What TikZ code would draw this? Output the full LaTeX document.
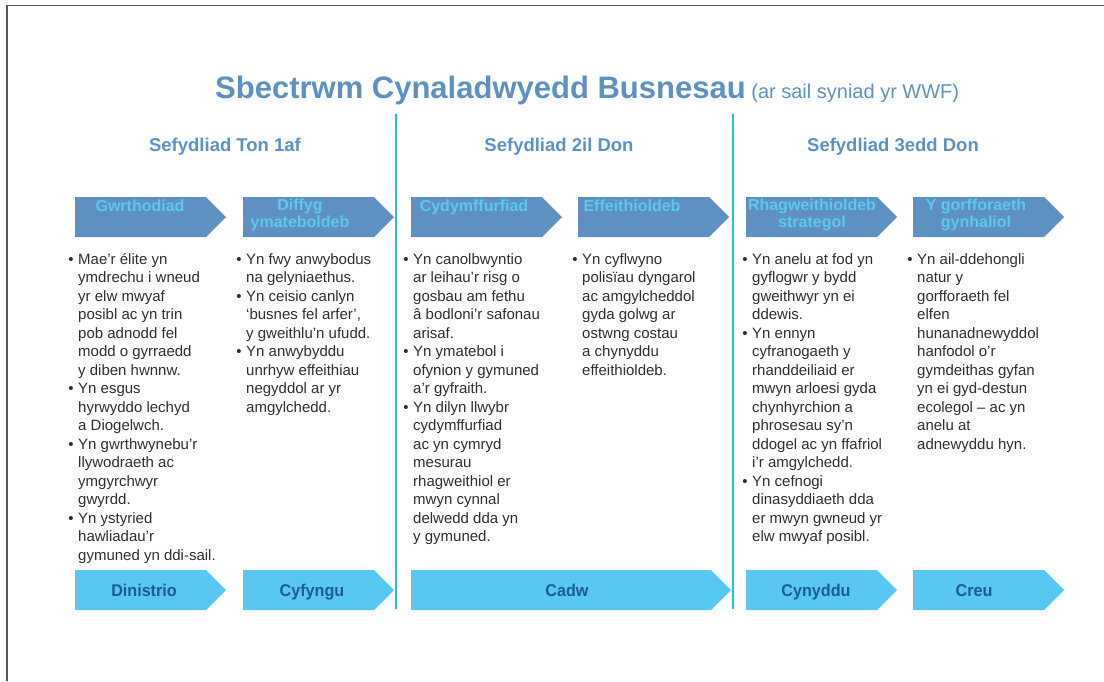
\documentclass[tikz,border=0pt]{standalone}
\usepackage{fontspec}
\setmainfont{Liberation Sans}
\definecolor{steel}{HTML}{5E91C2}
\definecolor{sky}{HTML}{58C8F2}
\definecolor{skytext}{HTML}{5BC8F0}
\definecolor{navy}{HTML}{1C5A98}
\definecolor{rule}{HTML}{2BB8EA}
\definecolor{body}{HTML}{2E2E2E}
\definecolor{frame}{HTML}{555555}
\tikzset{
  toparrow/.style={fill=steel, draw=none},
  botarrow/.style={fill=sky, draw=none},
  toplabel/.style={anchor=north, inner sep=0, text=skytext, align=center, font=\fontsize{16}{17}\selectfont\bfseries},
  botlabel/.style={anchor=base, inner sep=0, text=navy, font=\fontsize{17}{18}\selectfont\bfseries},
  colhead/.style={inner sep=0, text=steel, font=\fontsize{18.5}{20}\selectfont\bfseries},
  coltext/.style={anchor=base west, inner sep=0, text=body},
  divider/.style={draw=rule, line width=1.3pt},
}
\newcommand{\bul}{\leavevmode\llap{\textbullet\hspace{4.5pt}}}
\newcommand{\coltxt}[1]{\parbox[t]{170pt}{\fontsize{15}{18.5}\selectfont\raggedright\parindent=0pt #1}}
\newcommand{\arrowshape}[5]{% style, x, y, body width, name
  \fill[#1] (#2,#3) -- ++(#4,0) -- ++(20,20) -- ++(-20,20) -- ++(-#4,0) -- cycle;
  \coordinate (#5) at (#2+#4/2,#3+20);
}
\begin{document}
\begin{tikzpicture}[x=1pt,y=-1pt]
\useasboundingbox (0,0) rectangle (1104,681);
% frame
\draw[frame, line width=1.4pt] (7,681) -- (7,5.5) -- (1104,5.5);
% title
\node[anchor=base west, inner sep=0, text=steel] (title) at (215,98)
  {\fontsize{31}{32}\selectfont\bfseries Sbectrwm Cynaladwyedd Busnesau\fontsize{20}{22}\selectfont\mdseries\ (ar sail syniad yr WWF)};
% dividers
\coordinate (d1t) at (396,114); \coordinate (d1b) at (396,609);
\coordinate (d2t) at (733,114); \coordinate (d2b) at (733,609);
\draw[divider] (d1t) -- (d1b);
\draw[divider] (d2t) -- (d2b);
% column headers
\node[colhead] (h1) at (225,147) {Sefydliad Ton 1af};
\node[colhead] (h2) at (559,147) {Sefydliad 2il Don};
\node[colhead] (h3) at (893,147) {Sefydliad 3edd Don};
% top arrows
\arrowshape{toparrow}{75}{197}{131}{a1}
\arrowshape{toparrow}{243}{197}{131}{a2}
\arrowshape{toparrow}{411}{197}{131}{a3}
\arrowshape{toparrow}{578}{197}{131}{a4}
\arrowshape{toparrow}{746}{197}{131}{a5}
\arrowshape{toparrow}{913}{197}{131}{a6}
\node[toplabel] (t1) at (140,200) {Gwrthodiad};
\node[toplabel] (t2) at (300,199) {Diffyg\\ymateboldeb};
\node[toplabel] (t3) at (474,200) {Cydymffurfiad};
\node[toplabel] (t4) at (632,200) {Effeithioldeb};
\node[toplabel] (t5) at (812,199) {Rhagweithioldeb\\strategol};
\node[toplabel] (t6) at (976,199) {Y gorfforaeth\\gynhaliol};
% bottom arrows
\arrowshape{botarrow}{75}{570}{131}{b1}
\arrowshape{botarrow}{243}{570}{131}{b2}
\arrowshape{botarrow}{411}{570}{300}{b3}
\arrowshape{botarrow}{746}{570}{131}{b4}
\arrowshape{botarrow}{913}{570}{131}{b5}
\node[botlabel] (l1) at (144,596) {\scalebox{0.95}[1]{Dinistrio}};
\node[botlabel] (l2) at (312,596) {\scalebox{0.95}[1]{Cyfyngu}};
\node[botlabel] (l3) at (567,596) {\scalebox{0.95}[1]{Cadw}};
\node[botlabel] (l4) at (816,596) {\scalebox{0.95}[1]{Cynyddu}};
\node[botlabel] (l5) at (974,596) {\scalebox{0.95}[1]{Creu}};
% column texts
\node[coltext] (c1) at (78,264) {\coltxt{%
\bul Mae’r élite yn\\ymdrechu i wneud\\yr elw mwyaf\\posibl ac yn trin\\pob adnodd fel\\modd o gyrraedd\\y diben hwnnw.\\
\bul Yn esgus\\hyrwyddo lechyd\\a Diogelwch.\\
\bul Yn gwrthwynebu’r\\llywodraeth ac\\ymgyrchwyr\\gwyrdd.\\
\bul Yn ystyried\\hawliadau’r\\gymuned yn ddi-sail.}};
\node[coltext] (c2) at (246,264) {\coltxt{%
\bul Yn fwy anwybodus\\na gelyniaethus.\\
\bul Yn ceisio canlyn\\‘busnes fel arfer’,\\y gweithlu’n ufudd.\\
\bul Yn anwybyddu\\unrhyw effeithiau\\negyddol ar yr\\amgylchedd.}};
\node[coltext] (c3) at (413,264) {\coltxt{%
\bul Yn canolbwyntio\\ar leihau’r risg o\\gosbau am fethu\\â bodloni’r safonau\\arisaf.\\
\bul Yn ymatebol i\\ofynion y gymuned\\a’r gyfraith.\\
\bul Yn dilyn llwybr\\cydymffurfiad\\ac yn cymryd\\mesurau\\rhagweithiol er\\mwyn cynnal\\delwedd dda yn\\y gymuned.}};
\node[coltext] (c4) at (582,264) {\coltxt{%
\bul Yn cyflwyno\\polisïau dyngarol\\ac amgylcheddol\\gyda golwg ar\\ostwng costau\\a chynyddu\\effeithioldeb.}};
\node[coltext] (c5) at (752,264) {\coltxt{%
\bul Yn anelu at fod yn\\gyflogwr y bydd\\gweithwyr yn ei\\ddewis.\\
\bul Yn ennyn\\cyfranogaeth y\\rhanddeiliaid er\\mwyn arloesi gyda\\chynhyrchion a\\phrosesau sy’n\\ddogel ac yn ffafriol\\i’r amgylchedd.\\
\bul Yn cefnogi\\dinasyddiaeth dda\\er mwyn gwneud yr\\elw mwyaf posibl.}};
\node[coltext] (c6) at (917,264) {\coltxt{%
\bul Yn ail-ddehongli\\natur y\\gorfforaeth fel\\elfen\\hunanadnewyddol\\hanfodol o’r\\gymdeithas gyfan\\yn ei gyd-destun\\ecolegol – ac yn\\anelu at\\adnewyddu hyn.}};
\end{tikzpicture}
\end{document}
